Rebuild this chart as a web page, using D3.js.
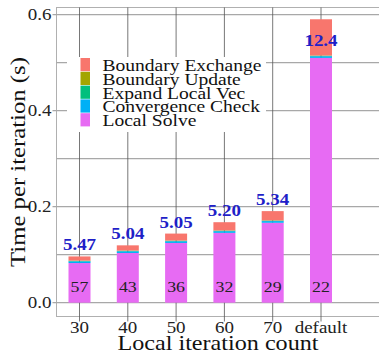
<!DOCTYPE html>
<html>
<head>
<meta charset="utf-8">
<script src="https://cdn.jsdelivr.net/npm/d3@7"></script>
<style>
  html, body { margin: 0; padding: 0; background: #fff; }
  svg { display: block; }
</style>
</head>
<body>
<svg id="chart" width="379" height="354" font-family="'Liberation Serif', 'DejaVu Serif', serif"></svg>
<script>
// Per-iteration time breakdown (seconds) for each local iteration setting
const categories = ["30", "40", "50", "60", "70", "default"];
const series = ["Local Solve", "Convergence Check", "Expand Local Vec", "Boundary Update", "Boundary Exchange"];
const localSolve        = [0.0826, 0.1036, 0.1245, 0.1455, 0.1665, 0.5100];
const convergenceCheck  = [0.0035, 0.0035, 0.0035, 0.0035, 0.0035, 0.0035];
const expandLocalVec    = [0.0010, 0.0010, 0.0010, 0.0010, 0.0010, 0.0010];
const boundaryUpdate    = [0.0005, 0.0005, 0.0005, 0.0005, 0.0005, 0.0005];
const boundaryExchange  = [0.0088, 0.0109, 0.0145, 0.0172, 0.0193, 0.0755];
const speedLabels = ["5.47", "5.04", "5.05", "5.20", "5.34", "12.4"];
const iterationCounts = ["57", "43", "36", "32", "29", "22"];
const yTicks = [0.0, 0.2, 0.4, 0.6];
const yGrid = [0.0, 0.1, 0.2, 0.3, 0.4, 0.5, 0.6];
const colors = {
  "Boundary Exchange": "#F8766D",
  "Boundary Update": "#A3A500",
  "Expand Local Vec": "#00BF7D",
  "Convergence Check": "#00B0F6",
  "Local Solve": "#E76BF3"
};
const legendOrder = ["Boundary Exchange", "Boundary Update", "Expand Local Vec", "Convergence Check", "Local Solve"];

const rows = categories.map((c, i) => ({
  category: c,
  "Local Solve": localSolve[i],
  "Convergence Check": convergenceCheck[i],
  "Expand Local Vec": expandLocalVec[i],
  "Boundary Update": boundaryUpdate[i],
  "Boundary Exchange": boundaryExchange[i],
  speed: speedLabels[i],
  iters: iterationCounts[i]
}));
const total = d => d3.sum(series, k => d[k]);

const svg = d3.select("#chart");
const frame = { left: 56.5, right: 380, top: 7.5, bottom: 316.5 };
const wide = 1.15; // horizontal stretch for the roman face

// place a text at (x, y), stretched along its own baseline, optionally rotated
function label(parent, x, y, str, opts = {}) {
  const rot = opts.rotate ? ` rotate(${opts.rotate})` : "";
  return parent.append("text")
    .attr("transform", `translate(${x},${y})${rot} scale(${wide},1)`)
    .attr("text-anchor", opts.anchor || "start")
    .attr("font-size", opts.size || 16)
    .attr("font-weight", opts.weight || "normal")
    .attr("fill", opts.fill || "#111")
    .text(str);
}

const y = d3.scaleLinear().domain([0, 0.6]).range([302.7, 14.7]);
const x = d3.scalePoint().domain(categories).range([79.5, 321]);
const barW = 22;

// panel frame
svg.append("rect")
  .attr("x", frame.left).attr("y", frame.top)
  .attr("width", frame.right - frame.left).attr("height", frame.bottom - frame.top)
  .attr("fill", "#fff").attr("stroke", "#b0b0b0").attr("stroke-width", 1);

// horizontal grid lines (labelled ones poke out left as ticks)
svg.append("g").selectAll("line").data(yGrid).join("line")
  .attr("x1", d => yTicks.some(t => Math.abs(t - d) < 1e-9) ? frame.left - 4 : frame.left)
  .attr("x2", frame.right)
  .attr("y1", d => y(d)).attr("y2", d => y(d))
  .attr("stroke", "#a8a8a8").attr("stroke-width", 1.2);

// vertical category lines, extending below the panel as tick marks
svg.append("g").selectAll("line").data(categories).join("line")
  .attr("x1", d => x(d)).attr("x2", d => x(d))
  .attr("y1", frame.top).attr("y2", frame.bottom + 5)
  .attr("stroke", "#555").attr("stroke-width", 0.8);

// stacked bars
const layers = d3.stack().keys(series)(rows);
svg.append("g").selectAll("g").data(layers).join("g")
  .attr("fill", d => colors[d.key])
  .selectAll("rect").data(d => d).join("rect")
  .attr("x", d => x(d.data.category) - barW / 2)
  .attr("width", barW)
  .attr("y", d => y(d[1]))
  .attr("height", d => y(d[0]) - y(d[1]));

// speed-up labels above each bar (kept inside the panel for the tallest bar)
const speedG = svg.append("g");
rows.forEach(d => {
  label(speedG, x(d.category), Math.max(y(total(d)) - 6, 46), d.speed,
    { anchor: "middle", size: 16.5, weight: "bold", fill: "#1f1fc8" });
});

// iteration counts inside each bar
const countG = svg.append("g");
rows.forEach(d => {
  label(countG, x(d.category), 292, d.iters, { anchor: "middle", size: 15.5, fill: "#222" });
});

// legend
const lg = svg.append("g");
lg.append("rect").attr("x", 67).attr("y", 57).attr("width", 199).attr("height", 75).attr("fill", "#fff");
legendOrder.forEach((k, i) => {
  const ry = 58 + i * 13.8;
  lg.append("rect").attr("x", 80.5).attr("y", ry).attr("width", 9.5).attr("height", 13.2).attr("fill", colors[k]);
  label(lg, 102.5, ry + 13, k, { size: 17 });
});

// y tick labels
const yt = svg.append("g");
yTicks.forEach(t => label(yt, 51.5, y(t) + 5.5, d3.format(".1f")(t), { anchor: "end", size: 16.5, fill: "#222" }));

// x tick labels
const xt = svg.append("g");
categories.forEach(c => label(xt, x(c), 332.5, c, { anchor: "middle", size: 16.5, fill: "#222" }));

// axis titles
label(svg, 218, 350, "Local iteration count", { anchor: "middle", size: 21 });
label(svg, 25, 162, "Time per iteration (s)", { anchor: "middle", size: 21.5, rotate: -90 });
</script>
</body>
</html>
